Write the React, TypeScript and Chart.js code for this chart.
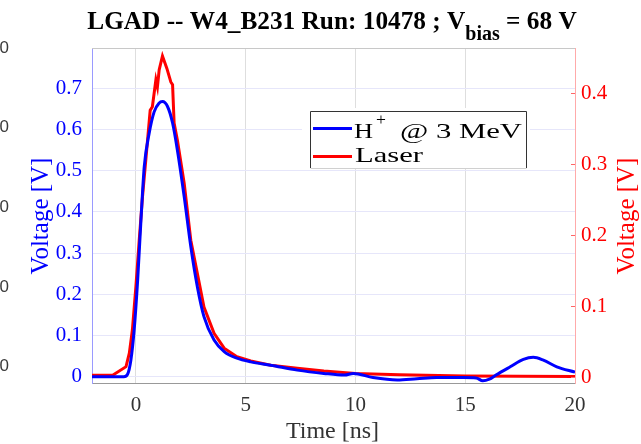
import React, { useEffect, useRef } from "react";
import { Chart, registerables } from "chart.js";

Chart.register(...registerables);

// ---- Data ----
const timeProton = [-2, -1, -0.55, -0.38, -0.23, -0.08, 0.08, 0.23, 0.38, 0.6, 0.83, 1.05, 1.21, 1.44, 1.67, 1.89, 2.2, 2.5, 2.8, 3.1, 3.56, 4.02, 4.6, 5.23, 6.14, 7.35, 8.56, 9.5, 9.9, 10.8, 11.9, 12.8, 13.7, 14.9, 15.5, 15.8, 16.1, 16.4, 17.05, 17.65, 18.1, 18.56, 19.17, 20];
const voltProton = [0, 0, 0, 0.006, 0.04, 0.113, 0.235, 0.38, 0.51, 0.59, 0.643, 0.664, 0.668, 0.656, 0.616, 0.55, 0.437, 0.316, 0.218, 0.146, 0.089, 0.061, 0.045, 0.036, 0.028, 0.016, 0.008, 0.004, 0.008, -0.002, -0.008, -0.005, -0.002, -0.002, -0.003, -0.01, -0.006, 0.004, 0.024, 0.042, 0.047, 0.04, 0.024, 0.011];

const timeLaser = [-2, -1.06, -0.45, -0.3, -0.16, 0, 0.15, 0.3, 0.45, 0.65, 0.75, 0.91, 0.98, 1.06, 1.21, 1.41, 1.59, 1.67, 1.74, 1.89, 2.2, 2.5, 2.8, 3.1, 3.56, 4.02, 4.6, 5.23, 6.14, 7.35, 8.56, 10, 12, 15, 17.5, 20];
const voltLaser = [0.003, 0.003, 0.015, 0.034, 0.067, 0.128, 0.193, 0.254, 0.306, 0.376, 0.381, 0.419, 0.409, 0.433, 0.4525, 0.435, 0.416, 0.412, 0.358, 0.334, 0.273, 0.193, 0.146, 0.099, 0.062, 0.041, 0.029, 0.023, 0.017, 0.0127, 0.0089, 0.0055, 0.0035, 0.002, 0.0015, 0.001];

const xTicks = [0, 5, 10, 15, 20];
const leftTicks = [0, 0.1, 0.2, 0.3, 0.4, 0.5, 0.6, 0.7];
const rightTicks = [0, 0.1, 0.2, 0.3, 0.4];
const leftEdgeLabels = ["0", "0", "0", "0", "0"];

const SERIF = "'Liberation Serif', 'Times New Roman', serif";

const fmt = (v: number) => String(Number(v.toFixed(2)));

const overlay = {
  id: "overlay",
  afterDraw(chart: any) {
    const ctx = chart.ctx as CanvasRenderingContext2D;
    const area = chart.chartArea;
    ctx.save();

    // top border
    ctx.strokeStyle = "#c8c8c8";
    ctx.lineWidth = 1;
    ctx.beginPath();
    ctx.moveTo(area.left, area.top + 0.5);
    ctx.lineTo(area.right, area.top + 0.5);
    ctx.stroke();

    // inward ticks on right axis
    const y1 = chart.scales.y1;
    ctx.strokeStyle = "#ff6666";
    rightTicks.forEach((v) => {
      const py = Math.round(y1.getPixelForValue(v)) + 0.5;
      ctx.beginPath();
      ctx.moveTo(area.right - 4, py);
      ctx.lineTo(area.right, py);
      ctx.stroke();
    });

    // Title
    const mainFont = `bold 25.3px ${SERIF}`;
    const subFont = `bold 20px ${SERIF}`;
    const p1 = "LGAD -- W4_B231 Run: 10478 ; V";
    const p2 = "bias";
    const p3 = " = 68 V";
    ctx.fillStyle = "#000";
    ctx.textBaseline = "alphabetic";
    ctx.textAlign = "left";
    ctx.font = mainFont;
    const w1 = ctx.measureText(p1).width;
    const w3 = ctx.measureText(p3).width;
    ctx.font = subFont;
    const w2 = ctx.measureText(p2).width;
    let tx = 332 - (w1 + w2 + w3) / 2;
    ctx.font = mainFont;
    ctx.fillText(p1, tx, 28.5);
    tx += w1;
    ctx.font = subFont;
    ctx.fillText(p2, tx, 40);
    tx += w2;
    ctx.font = mainFont;
    ctx.fillText(p3, tx, 28.5);

    // Axis titles
    ctx.font = `25px ${SERIF}`;
    ctx.textAlign = "center";
    ctx.fillStyle = "#0000ff";
    ctx.save();
    ctx.translate(48, 216);
    ctx.rotate(-Math.PI / 2);
    ctx.fillText("Voltage [V]", 0, 0);
    ctx.restore();
    ctx.fillStyle = "#ff0000";
    ctx.save();
    ctx.translate(634, 216);
    ctx.rotate(-Math.PI / 2);
    ctx.fillText("Voltage [V]", 0, 0);
    ctx.restore();
    ctx.fillStyle = "#333";
    ctx.font = `24px ${SERIF}`;
    ctx.fillText("Time [ns]", 332.5, 438);

    // Left edge clipped labels
    ctx.font = "17px 'Liberation Sans', Arial, sans-serif";
    ctx.textAlign = "right";
    ctx.textBaseline = "middle";
    ctx.fillStyle = "#3a3a3a";
    const ys = [48, 127, 207, 287, 366];
    leftEdgeLabels.forEach((t, i) => ctx.fillText(t, 9, ys[i]));

    // Legend
    ctx.fillStyle = "#fff";
    ctx.fillRect(302, 108, 228, 61);
    ctx.strokeStyle = "#333";
    ctx.lineWidth = 1;
    ctx.beginPath();
    ctx.moveTo(310.5, 168);
    ctx.lineTo(310.5, 111.5);
    ctx.lineTo(526.5, 111.5);
    ctx.lineTo(526.5, 168);
    ctx.stroke();
    ctx.strokeStyle = "#d0d0d0";
    ctx.beginPath();
    ctx.moveTo(310.5, 168.5);
    ctx.lineTo(526.5, 168.5);
    ctx.stroke();

    ctx.lineWidth = 3;
    ctx.strokeStyle = "#0000ff";
    ctx.beginPath();
    ctx.moveTo(313, 128.5);
    ctx.lineTo(352, 128.5);
    ctx.stroke();
    ctx.strokeStyle = "#ff0000";
    ctx.beginPath();
    ctx.moveTo(313, 156.5);
    ctx.lineTo(352, 156.5);
    ctx.stroke();

    ctx.fillStyle = "#000";
    ctx.textBaseline = "alphabetic";
    ctx.textAlign = "left";
    const drawScaled = (text: string, x: number, y: number, font: string, sx: number) => {
      ctx.save();
      ctx.font = font;
      ctx.translate(x, y);
      ctx.scale(sx, 1);
      ctx.fillText(text, 0, 0);
      ctx.restore();
    };
    const lf = `22px ${SERIF}`;
    drawScaled("H", 354, 137.5, lf, 1.2);
    drawScaled("+", 376, 125, `16px ${SERIF}`, 1.1);
    ctx.font = lf;
    const wRest = ctx.measureText("@ 3 MeV").width;
    drawScaled("@ 3 MeV", 400, 137.5, lf, 122 / wRest);
    const wLaser = ctx.measureText("Laser").width;
    drawScaled("Laser", 355, 161.5, lf, 68 / wLaser);

    ctx.restore();
  },
};

export default function App() {
  const ref = useRef<HTMLCanvasElement | null>(null);
  useEffect(() => {
    document.body.style.margin = "0";
    const canvas = ref.current;
    if (!canvas) return;
    const chart = new Chart(canvas, {
      type: "line",
      data: {
        datasets: [
          {
            label: "H+ @ 3 MeV",
            data: timeProton.map((t, i) => ({ x: t, y: voltProton[i] })),
            borderColor: "#0000ff",
            backgroundColor: "#0000ff",
            borderWidth: 3,
            pointRadius: 0,
            cubicInterpolationMode: "monotone",
            yAxisID: "y",
          },
          {
            label: "Laser",
            data: timeLaser.map((t, i) => ({ x: t, y: voltLaser[i] })),
            borderColor: "#ff0000",
            backgroundColor: "#ff0000",
            borderWidth: 3,
            pointRadius: 0,
            tension: 0,
            yAxisID: "y1",
          },
        ],
      },
      options: {
        responsive: false,
        animation: false,
        devicePixelRatio: 1,
        layout: { padding: { top: 48, left: 0, right: 0, bottom: 0 } },
        plugins: { legend: { display: false }, tooltip: { enabled: false }, title: { display: false } },
        scales: {
          x: {
            type: "linear",
            min: -2,
            max: 20,
            afterBuildTicks: (s: any) => {
              s.ticks = xTicks.map((v) => ({ value: v }));
            },
            afterFit: (s: any) => {
              s.height = 61;
            },
            ticks: { font: { family: SERIF, size: 21 }, color: "#333", padding: 10, maxRotation: 0, callback: (v: any) => fmt(Number(v)) },
            grid: { color: "#dedede", drawTicks: false, lineWidth: 1 },
            border: { color: "#999" },
          },
          y: {
            type: "linear",
            position: "left",
            min: -0.0153,
            max: 0.798,
            afterBuildTicks: (s: any) => {
              s.ticks = leftTicks.map((v) => ({ value: v }));
            },
            afterFit: (s: any) => {
              s.width = 92;
            },
            ticks: { font: { family: SERIF, size: 21 }, color: "#0000ff", padding: 10, callback: (v: any) => fmt(Number(v)) },
            grid: { color: "#e6e6fa", drawTicks: false },
            border: { color: "#9a9aff" },
          },
          y1: {
            type: "linear",
            position: "right",
            min: -0.008,
            max: 0.4638,
            afterBuildTicks: (s: any) => {
              s.ticks = rightTicks.map((v) => ({ value: v }));
            },
            afterFit: (s: any) => {
              s.width = 66;
            },
            ticks: { font: { family: SERIF, size: 21 }, color: "#ff0000", padding: 6, callback: (v: any) => fmt(Number(v)) },
            grid: { drawOnChartArea: false, drawTicks: false },
            border: { color: "#ffaaaa" },
          },
        },
      },
      plugins: [overlay],
    } as any);
    return () => chart.destroy();
  }, []);
  return (
    <div style={{ width: 641, height: 444 }}>
      <canvas ref={ref} width={641} height={444} style={{ display: "block", width: 641, height: 444 }} />
    </div>
  );
}
